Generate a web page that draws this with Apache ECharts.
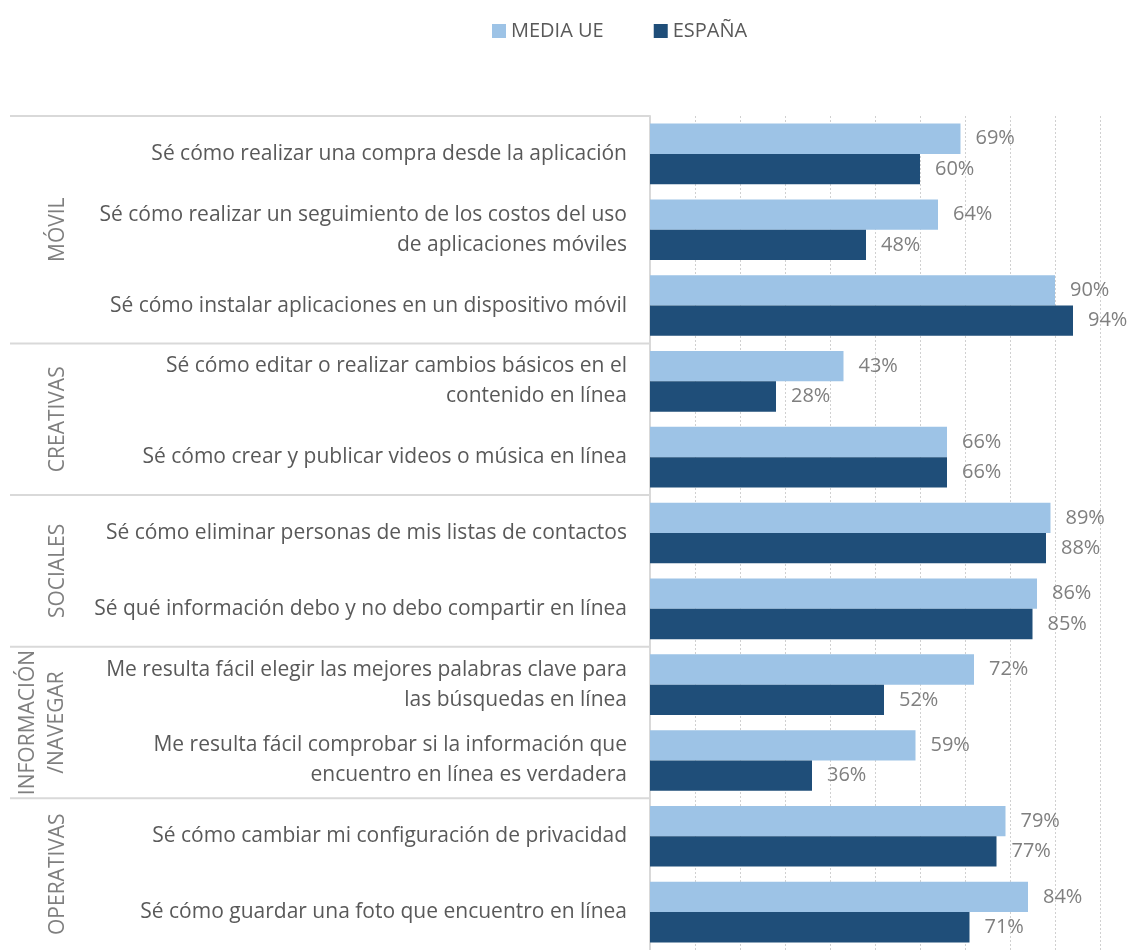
<!DOCTYPE html>
<html>
<head>
<meta charset="utf-8">
<script src="https://cdn.jsdelivr.net/npm/echarts@6/dist/echarts.min.js"></script>
<style>
  html, body { margin: 0; padding: 0; background: #fff; }
  #chart { width: 1128px; height: 950px; }
</style>
</head>
<body>
<div id="chart"></div>
<script>
// datos
var categories = [
  'Sé cómo realizar una compra desde la aplicación',
  'Sé cómo realizar un seguimiento de los costos del uso\nde aplicaciones móviles',
  'Sé cómo instalar aplicaciones en un dispositivo móvil',
  'Sé cómo editar o realizar cambios básicos en el\ncontenido en línea',
  'Sé cómo crear y publicar videos o música en línea',
  'Sé cómo eliminar personas de mis listas de contactos',
  'Sé qué información debo y no debo compartir en línea',
  'Me resulta fácil elegir las mejores palabras clave para\nlas búsquedas en línea',
  'Me resulta fácil comprobar si la información que\nencuentro en línea es verdadera',
  'Sé cómo cambiar mi configuración de privacidad',
  'Sé cómo guardar una foto que encuentro en línea'
];
var mediaUE = [69, 64, 90, 43, 66, 89, 86, 72, 59, 79, 84];
var espana = [60, 48, 94, 28, 66, 88, 85, 52, 36, 77, 71];
var groupNames = ['MÓVIL', 'CREATIVAS', 'SOCIALES', 'INFORMACIÓN\n/NAVEGAR', 'OPERATIVAS'];
var groupSizes = [3, 2, 2, 2, 2];

var FONT = '"Open Sans", "Noto Sans", sans-serif';
var chart = echarts.init(document.getElementById('chart'));

var labelStyle = {
  show: true,
  position: 'right',
  distance: 15,
  formatter: '{c}%',
  color: '#7f7f7f',
  fontSize: 20,
  fontFamily: FONT
};

chart.setOption({
  animation: false,
  color: ['#9DC3E6', '#1F4E79'],
  legend: {
    top: 16,
    left: 487,
    itemWidth: 14,
    itemHeight: 14,
    itemGap: 50,
    icon: 'rect',
    textStyle: { color: '#595959', fontSize: 20, fontFamily: FONT },
    data: ['MEDIA UE', 'ESPAÑA']
  },
  grid: { left: 650, right: 28, top: 116, bottom: -6 },
  xAxis: {
    type: 'value',
    min: 0,
    max: 100,
    interval: 10,
    axisLabel: { show: false },
    axisLine: { show: false },
    axisTick: { show: false },
    splitLine: { lineStyle: { color: '#d0d0d0', type: [2, 2], width: 1 } }
  },
  yAxis: {
    type: 'category',
    inverse: true,
    data: categories,
    axisTick: { show: false },
    axisLine: { lineStyle: { color: '#d9d9d9', width: 2 } },
    axisLabel: {
      color: '#595959',
      fontSize: 21,
      fontFamily: FONT,
      lineHeight: 30,
      margin: 23,
      align: 'right'
    }
  },
  series: [
    { name: 'MEDIA UE', type: 'bar', data: mediaUE, barGap: '0%', barCategoryGap: '20%', label: labelStyle },
    { name: 'ESPAÑA', type: 'bar', data: espana, label: labelStyle }
  ]
});

// separadores y etiquetas de grupo
var p0 = chart.convertToPixel({ yAxisIndex: 0 }, 0);
var p1 = chart.convertToPixel({ yAxisIndex: 0 }, 1);
var band = p1 - p0;
var leftX = chart.convertToPixel({ xAxisIndex: 0 }, 0);
var elements = [];
var start = 0;
groupSizes.forEach(function (n, i) {
  var yTop = chart.convertToPixel({ yAxisIndex: 0 }, start) - band / 2;
  var yMid = yTop + band * n / 2;
  elements.push({
    type: 'line',
    shape: { x1: 10, y1: yTop, x2: leftX, y2: yTop },
    style: { stroke: '#d9d9d9', lineWidth: 2 }
  });
  var twoLines = groupNames[i].indexOf('\n') >= 0;
  elements.push({
    type: 'text',
    x: twoLines ? 43 : 58,
    y: yMid,
    rotation: Math.PI / 2,
    style: {
      text: groupNames[i],
      fill: '#7f7f7f',
      font: '21px ' + FONT,
      lineHeight: 29,
      textAlign: 'center',
      textVerticalAlign: 'middle',
      align: 'center',
      verticalAlign: 'middle'
    }
  });
  start += n;
});
chart.setOption({ graphic: { elements: elements } });
</script>
</body>
</html>
